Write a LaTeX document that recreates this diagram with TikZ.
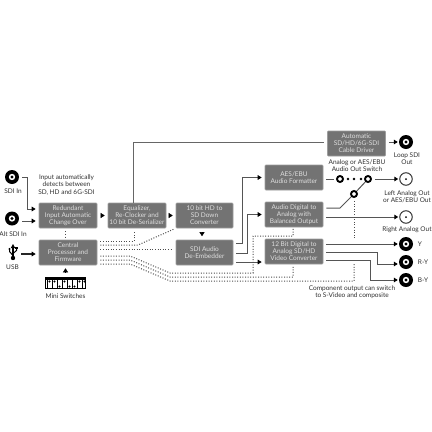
\documentclass[tikz,border=0pt]{standalone}
\usepackage{fontspec}
\setmainfont{Lato}
\usetikzlibrary{arrows.meta,calc}
\definecolor{boxfill}{HTML}{737373}
\definecolor{boxtext}{HTML}{DEDEDE}
\definecolor{wire}{HTML}{555555}
\definecolor{lbl}{HTML}{303030}
\tikzset{
  x=1pt,y=-1pt,
  proc/.style={draw=boxfill!70!white,line width=.6pt,fill=boxfill,rounded corners=.8pt,inner sep=0pt,
    minimum width=#1,minimum height=25pt,text=boxtext,font=\fontsize{6.5}{6.9}\selectfont,align=center},
  proc/.default=58pt,
  lab/.style={text=lbl,font=\fontsize{6.5}{7.2}\selectfont,align=center,inner sep=0pt},
  bnc/.style={circle,fill=black,minimum size=14pt,inner sep=0pt,
    path picture={\fill[white] (path picture bounding box.center) circle (3.2pt);
                  \fill[black] (path picture bounding box.center) circle (1.7pt);}},
  ana/.style={circle,draw=black!80,fill=white,line width=1pt,minimum size=12.5pt,inner sep=0pt,
    path picture={\fill[black] (path picture bounding box.center) circle (1pt);}},
  sw/.style={circle,draw=black,fill=white,line width=1.9pt,minimum size=6pt,inner sep=0pt},
  wr/.style={draw=wire,line width=1pt,shorten <=3pt},
  arr/.style={wr,shorten >=3pt,-{Triangle[length=4pt,width=4.6pt,color=black]}},
  arrout/.style={wr,shorten >=1pt,-{Triangle[length=4pt,width=4.6pt,color=black]}},
  tri/.style={draw=black,shorten <=3.5pt,shorten >=3pt,-{Triangle[length=4pt,width=5pt]},line width=.5pt},
  dots/.style={draw=black!70,line width=1pt,dash pattern=on 1pt off 1.6pt,shorten <=3pt,shorten >=1pt},
}
\begin{document}
\begin{tikzpicture}
\useasboundingbox (0,0) rectangle (432,432);
% boxes
\node[proc] (red) at (68,215.5) {Redundant\\Input Automatic\\Change Over};
\node[proc] (cpu) at (68,252.5) {Central\\Processor and\\Firmware};
\node[proc] (eq) at (137,215.5) {Equalizer,\\Re-Clocker and\\10 bit De-Serializer};
\node[proc=57pt] (down) at (204.5,215.5) {10 bit HD to\\SD Down\\Converter};
\node[proc=57pt] (emb) at (204.5,252.5) {SDI Audio\\De-Embedder};
\node[proc] (aes) at (294,177.5) {AES/EBU\\Audio Formatter};
\node[proc] (dac) at (294,214.5) {Audio Digital to\\Analog with\\Balanced Output};
\node[proc] (vid) at (294,251.5) {12 Bit Digital to\\Analog SD/HD\\Video Converter};
\node[proc] (cable) at (356.5,143.5) {Automatic\\SD/HD/6G-SDI\\Cable Driver};
% connectors
\node[bnc] (sdi) at (12,177) {};
\node[bnc] (alt) at (12,218.5) {};
\node[bnc] (loop) at (406,142) {};
\node[ana] (left) at (406,179) {};
\node[ana] (right) at (406,217) {};
\node[bnc] (y) at (406,244) {};
\node[bnc] (ry) at (406,262) {};
\node[bnc] (by) at (406,280) {};
% switch
\node[sw] (s1) at (340,179) {};
\node[sw] (s2) at (368,179) {};
\node[sw] (s3) at (354,194) {};
\fill[black] (348,179) circle (1.3pt) (354,179) circle (1.3pt) (361,179) circle (1.3pt);
% usb
\coordinate (usb) at (13,254);
\draw[black,line width=1.2pt] (13,247) -- (13,257);
\fill[black] (13,244) -- (10.8,248) -- (15.2,248) -- cycle;
\fill[black] (13,258) circle (2.2pt);
\draw[black,line width=1pt] (13,255.5) -- (9.5,251.5) -- (9.5,249.5);
\draw[black,line width=1pt] (13,253.5) -- (16.5,250.5) -- (16.5,248.5);
\fill[black] (9.5,249) circle (1.2pt);
\fill[black] (15,246.8) rectangle (18,249.4);
% mini switches
\node[draw=black,line width=1.2pt,fill=white,minimum width=40.5pt,minimum height=11pt,inner sep=0pt] (mini) at (65.5,283) {};
\fill[black] (45,277.5) rectangle (86,279.5);
\foreach \i/\d in {0/281.5,1/281.5,2/286.5,3/281.5,4/286.5,5/286.5,6/281.5,7/281.5}{
  \fill[black] ({46.6+\i*5},278) rectangle ({47.9+\i*5},288.5);
  \fill[black] ({49.5+\i*5},\d) circle (1.1pt);
}
% solid lines
\coordinate (a4) at ([yshift=-5.5pt]red.west);
\draw[arr] (sdi.east) -- (27,177) -- (27,209) -- ([yshift=6.5pt]red.west);
\draw[arr] (alt.east |- a4) -- (a4);
\draw[arr,draw=black!85,line width=1.3pt,shorten <=8pt] (usb) -- (usb -| cpu.west);
\draw[tri] (red.east) -- (eq.west);
\draw[tri] (eq.east) -- (down.west);
\draw[tri,shorten <=4pt,shorten >=3.5pt] ([xshift=-2.5pt]down.south) -- ([xshift=-2.5pt]emb.north);
\draw[tri,shorten <=4.5pt] (mini.north) -- (mini.north |- cpu.south);
\draw[wr,draw=black!60,shorten <=0pt,shorten >=3pt] ([xshift=-4pt]eq.north) |- ([yshift=1.5pt]cable.west);
\draw[arrout] (cable.east |- loop) -- (loop.west);
\draw[arr] ([yshift=9.5pt]emb.east) -| (242,177.5) -- (aes.west);
\draw[arr] ([yshift=-.5pt]emb.east) -| (247.5,214.5) -- (dac.west);
\draw[arr] (emb.east |- 0,262) -- (vid.west |- 0,262);
\draw[wr,shorten >=2pt] (aes.east |- s1) -- (s1);
\draw[arrout] (s2) -- (left.west);
\draw[wr,shorten >=0pt] ([yshift=6.5pt]dac.east) -- (340,208) -- (s3);
\draw[wr,shorten <=0pt,shorten >=0pt] (s3) -- (s2);
\draw[arrout] ([yshift=-2.5pt]dac.east) -- (right.west);
\draw[arrout] (vid.east |- y) -- (y.west);
\draw[arrout] ([yshift=-.5pt]vid.east) -| (377,264) -- ([yshift=-2pt]ry.west);
\draw[arrout] ([yshift=-8.5pt]vid.east) -| (370,280) -- (by.west);
% dotted
\draw[dots] ([xshift=-3pt]red.south) -- ([xshift=-3pt]cpu.north);
\draw[dots,shorten >=4pt] ([yshift=11.5pt]cpu.east) -| ([xshift=-3pt]eq.south);
\draw[dots,shorten >=2.5pt] ([yshift=7.5pt]cpu.east) -- (138,245) -- (down.south west);
\draw[dots,shorten >=3pt] ([yshift=3.5pt]cpu.east) -- ([yshift=3.5pt]emb.west);
\draw[dots] ([yshift=-3.5pt]cpu.east) -- (130,256) -- (170,273) -- (253,273) -- (253,236) -- (293,236) -- ([xshift=-1pt]dac.south);
\draw[dots] ([yshift=-7.5pt]cpu.east) -- (130,260) -- (170,277) -- (293,277) -- ([xshift=-1pt]vid.south);
\coordinate (d1) at (354,263);
\coordinate (d2) at (354,238);
\draw[dots,shorten >=0pt] ([yshift=-11.5pt]cpu.east) -- (130,264) -- (170,281) -- (354,281) -- (d1);
\draw[dots,shorten >=0pt] (s3.south) -- (d2);
% labels
\node[lab] (t1) at (13,191) {SDI In};
\node[lab] (t2) at (13,234) {Alt SDI In};
\node[lab] (t3) at (12.5,267.5) {USB};
\node[lab] (t4) at (66.5,185) {Input automatically\\detects between\\SD, HD and 6G-SDI};
\node[lab] (t5) at (65.5,296) {Mini Switches};
\node[lab] (t6) at (357,165.5) {Analog or AES/EBU\\Audio Out Switch};
\node[lab] (t7) at (407,158.5) {Loop SDI\\Out};
\node[lab] (t8) at (407,197) {Left Analog Out\\or AES/EBU Out};
\node[lab] (t9) at (407,230) {Right Analog Out};
\node[lab] (t10) at (420,244) {Y};
\node[lab] (t11) at (423,262) {R-Y};
\node[lab] (t12) at (423,280) {B-Y};
\node[lab] (t13) at (352,292) {Component output can switch\\to S-Video and composite};
\end{tikzpicture}
\end{document}
